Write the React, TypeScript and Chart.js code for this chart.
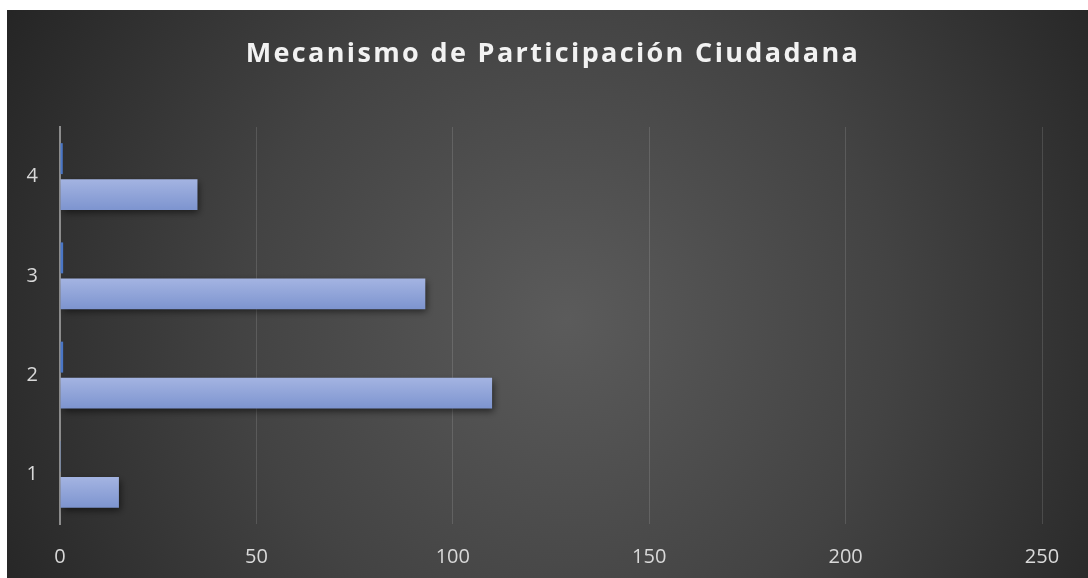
import React, { useEffect, useRef } from "react";
import { Chart, registerables } from "chart.js";

Chart.register(...registerables);

const TITLE = "Mecanismo de Participación Ciudadana";
const categories = ["1", "2", "3", "4"];
const seriesMain = [15, 110, 93, 35];
const seriesSmall = [0.2, 0.8, 0.8, 0.7];
const xTicks = [0, 50, 100, 150, 200, 250];

const CP = 0.725;
const BP = 0.86;

const bgPlugin = {
  id: "bgPlugin",
  beforeDraw(chart: any) {
    const { ctx, width, height } = chart;
    ctx.save();
    const g = ctx.createRadialGradient(560, 310, 0, 560, 310, 650);
    g.addColorStop(0, "#5b5b5b");
    g.addColorStop(0.5, "#434343");
    g.addColorStop(1, "#242424");
    ctx.fillStyle = g;
    ctx.fillRect(0, 0, width, height);
    ctx.restore();
  },
  afterDraw(chart: any) {
    const { ctx } = chart;
    ctx.save();
    ctx.font = "bold 27px 'Open Sans'";
    (ctx as any).letterSpacing = "2.35px";
    ctx.fillStyle = "#f2f2f2";
    ctx.textAlign = "center";
    ctx.textBaseline = "alphabetic";
    ctx.fillText(TITLE, 546, 52);
    ctx.restore();
  },
};

const shadowPlugin = {
  id: "shadowPlugin",
  beforeDatasetDraw(chart: any, args: any) {
    if (args.index === 1) {
      const ctx = chart.ctx;
      ctx.save();
      ctx.shadowColor = "rgba(0,0,0,0.55)";
      ctx.shadowBlur = 7;
      ctx.shadowOffsetX = 2;
      ctx.shadowOffsetY = 3;
    }
  },
  afterDatasetDraw(chart: any, args: any) {
    if (args.index === 1) chart.ctx.restore();
  },
};

export default function App() {
  const ref = useRef<HTMLCanvasElement | null>(null);
  useEffect(() => {
    if (!ref.current) return;
    const mainColor = (c: any) => {
      const chart = c.chart;
      const y = chart.scales && chart.scales.y;
      if (!y || c.dataIndex === undefined) return "#90a2d8";
      const center = y.getPixelForValue(c.dataIndex);
      const band = Math.abs(y.getPixelForValue(1) - y.getPixelForValue(0));
      if (!isFinite(center) || !isFinite(band) || band <= 0) return "#90a2d8";
      const chunk = (band * CP) / 2;
      const pad = (chunk - chunk * BP) / 2;
      const top = center + pad;
      const bottom = center + chunk - pad;
      const g = chart.ctx.createLinearGradient(0, top, 0, bottom);
      g.addColorStop(0, "#a4b4e2");
      g.addColorStop(1, "#7d94cf");
      return g;
    };
    const chart = new Chart(ref.current, {
      type: "bar",
      data: {
        labels: categories,
        datasets: [
          {
            label: "Serie 2",
            data: seriesSmall,
            backgroundColor: "#4a76c6",
            categoryPercentage: CP,
            barPercentage: BP,
          },
          {
            label: "Serie 1",
            data: seriesMain,
            backgroundColor: mainColor,
            categoryPercentage: CP,
            barPercentage: BP,
          },
        ],
      },
      options: {
        indexAxis: "y",
        animation: false,
        responsive: false,
        layout: { padding: { top: 117, right: 53, bottom: 0, left: 0 } },
        plugins: {
          legend: { display: false },
          title: { display: false },
          tooltip: { enabled: false },
        },
        scales: {
          x: {
            min: 0,
            max: 250,
            afterBuildTicks(scale: any) {
              scale.ticks = xTicks.map((v) => ({ value: v }));
            },
            afterFit(scale: any) {
              scale.height = 54;
            },
            grid: {
              color: "rgba(255,255,255,0.13)",
              lineWidth: 1,
              drawTicks: false,
            },
            border: { display: false },
            ticks: {
              color: "#d9d9d9",
              font: { family: "'Open Sans'", size: 20 },
              padding: 21,
            },
          },
          y: {
            reverse: true,
            afterFit(scale: any) {
              scale.width = 53;
            },
            grid: { display: false, drawTicks: false },
            border: { display: true, color: "#8c8c8c", width: 2 },
            ticks: {
              color: "#d9d9d9",
              font: { family: "'Open Sans'", size: 20 },
              padding: 22,
            },
          },
        },
      },
      plugins: [bgPlugin, shadowPlugin],
    } as any);
    return () => chart.destroy();
  }, []);
  return (
    <div style={{ position: "fixed", left: 7, top: 10, width: 1088, height: 568 }}>
      <canvas ref={ref} width={1088} height={568} />
    </div>
  );
}
